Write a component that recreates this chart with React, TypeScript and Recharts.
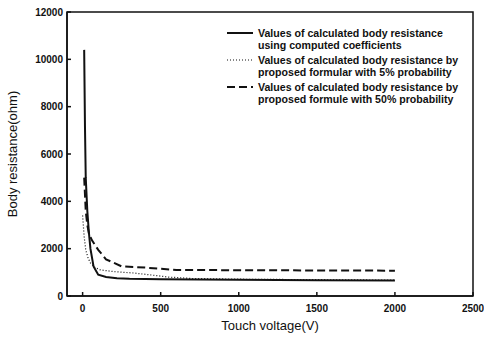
import React from "react";
import {
  LineChart,
  Line,
  XAxis,
  YAxis,
  Legend,
  ReferenceArea,
} from "recharts";

const xTicks = [0, 500, 1000, 1500, 2000, 2500];
const yTicks = [0, 2000, 4000, 6000, 8000, 10000, 12000];

// touch voltage (V) for each curve
const computedVoltage = [10, 15, 20, 30, 40, 50, 70, 100, 150, 220, 300, 500, 1000, 1500, 2000];
const computedOhm = [10400, 7200, 5000, 3600, 2700, 2000, 1250, 900, 800, 750, 730, 710, 690, 670, 650];

const prob5Voltage = [0, 10, 20, 35, 50, 80, 115, 200, 330, 450, 550, 700, 1000, 1500, 2000];
const prob5Ohm = [3400, 2500, 1950, 1600, 1400, 1200, 1100, 1030, 970, 880, 800, 740, 710, 690, 670];

const prob50Voltage = [10, 20, 30, 40, 60, 100, 150, 250, 400, 500, 600, 1000, 1500, 2000];
const prob50Ohm = [5000, 3600, 3000, 2650, 2350, 1950, 1550, 1250, 1200, 1150, 1100, 1090, 1080, 1070];

const legendItems = [
  { lines: ["Values of calculated body resistance", "using computed coefficients"], dash: undefined, width: 2 },
  { lines: ["Values of calculated body resistance by", "proposed formular with 5% probability"], dash: "1 2", width: 1.2 },
  { lines: ["Values of calculated body resistance by", "proposed formule with 50% probability"], dash: "8 4", width: 2 },
];

const toPoints = (xs: number[], ys: number[]) => xs.map((v, i) => ({ v, r: ys[i] }));

const font = "'Liberation Sans', Arial, sans-serif";

function LegendBox() {
  return (
    <div style={{ fontFamily: font, fontSize: 10.6, fontWeight: "bold", lineHeight: "12px", color: "#111" }}>
      {legendItems.map((item, i) => (
        <div key={i} style={{ display: "flex", alignItems: "flex-start", marginBottom: 3 }}>
          <svg width={26} height={12} style={{ marginRight: 5, flexShrink: 0 }}>
            <line x1={0} y1={6} x2={26} y2={6} stroke="#111" strokeWidth={item.width} strokeDasharray={item.dash} />
          </svg>
          <div>
            {item.lines.map((t) => (
              <div key={t}>{t}</div>
            ))}
          </div>
        </div>
      ))}
    </div>
  );
}

export default function App() {
  const tickStyle = { fontFamily: font, fontSize: 10, fontWeight: "bold", fill: "#111" };
  return (
    <div style={{ position: "absolute", left: 0, top: 0, width: 484, height: 342, background: "#fff" }}>
      <LineChart width={484} height={342} margin={{ top: 12, right: 11, left: 0, bottom: 0 }}>
        <XAxis
          type="number"
          dataKey="v"
          domain={[-100, 2500]}
          ticks={xTicks}
          allowDataOverflow
          height={46}
          tickSize={-4}
          tickMargin={13}
          tick={tickStyle}
          stroke="#111"
          strokeWidth={1.5}
          label={{ value: "Touch voltage(V)", position: "insideBottom", offset: 12, style: { fontFamily: font, fontSize: 13, fill: "#111" } }}
        />
        <YAxis
          type="number"
          domain={[0, 12000]}
          ticks={yTicks}
          width={67}
          tickSize={-4}
          tickMargin={8}
          tick={tickStyle}
          stroke="#111"
          strokeWidth={1.5}
          label={{ value: "Body resistance(ohm)", angle: -90, position: "insideLeft", offset: 12, style: { fontFamily: font, fontSize: 13, fill: "#111", textAnchor: "middle" } }}
        />
        <ReferenceArea x1={-100} x2={2500} y1={0} y2={12000} fill="none" stroke="#111" strokeWidth={1.5} ifOverflow="visible" />
        <Line
          data={toPoints(computedVoltage, computedOhm)}
          dataKey="r"
          stroke="#111"
          strokeWidth={2}
          dot={false}
          isAnimationActive={false}
        />
        <Line
          data={toPoints(prob5Voltage, prob5Ohm)}
          dataKey="r"
          stroke="#111"
          strokeWidth={1.2}
          strokeDasharray="1 2"
          dot={false}
          isAnimationActive={false}
        />
        <Line
          data={toPoints(prob50Voltage, prob50Ohm)}
          dataKey="r"
          stroke="#111"
          strokeWidth={2}
          strokeDasharray="8 4"
          dot={false}
          isAnimationActive={false}
        />
        <Legend
          layout="vertical"
          align="center"
          verticalAlign="middle"
          content={() => <LegendBox />}
          wrapperStyle={{ position: "absolute", left: 227, top: 27, width: 255 }}
        />
      </LineChart>
    </div>
  );
}
